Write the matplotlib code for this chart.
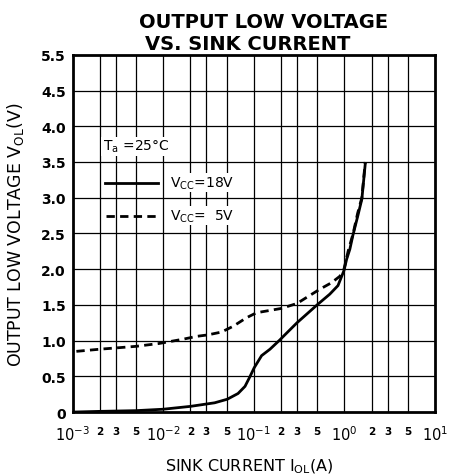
import numpy as np
import matplotlib
matplotlib.use("Agg")
import matplotlib.pyplot as plt
from matplotlib.ticker import FixedLocator, NullLocator

plt.rcParams["font.family"] = ["DejaVu Sans"]
plt.rcParams["mathtext.fontset"] = "dejavusans"

# ------------------------------------
# Data
# ------------------------------------

i_18v = [1e-3, 2e-3, 5e-3, 1e-2, 2e-2, 0.037, 0.051, 0.067, 0.080, 0.091,
         0.101, 0.122, 0.151, 0.194, 0.22, 0.3, 0.5, 0.69, 0.85, 0.99,
         1.06, 1.15, 1.24, 1.41, 1.56, 1.7]
v_18v = [0.0, 0.01, 0.02, 0.04, 0.08, 0.13, 0.18, 0.26, 0.36, 0.5,
         0.62, 0.79, 0.88, 1.01, 1.08, 1.25, 1.5, 1.65, 1.77, 1.98,
         2.14, 2.28, 2.47, 2.75, 2.98, 3.47]

i_5v = [1.1e-3, 2e-3, 5e-3, 9e-3, 0.0166, 0.0234, 0.031, 0.044, 0.059,
        0.083, 0.107, 0.2, 0.3, 0.367, 0.537, 0.72, 0.89, 0.99,
        1.1, 1.25, 1.4, 1.56, 1.7]
v_5v = [0.85, 0.88, 0.92, 0.96, 1.02, 1.06, 1.08, 1.12, 1.2,
        1.32, 1.39, 1.45, 1.52, 1.59, 1.72, 1.81, 1.9, 2.0,
        2.25, 2.5, 2.78, 3.0, 3.5]

y_ticks = [0, 0.5, 1.0, 1.5, 2.0, 2.5, 3.0, 3.5, 4.0, 4.5, 5.0]
y_labels = ["0", "0.5", "1.0", "1.5", "2.0", "2.5", "3.0", "3.5", "4.0", "4.5", "5.5"]

decades = [-3, -2, -1, 0, 1]
minor_mult = [2, 3, 5]

# ------------------------------------
# Figure
# ------------------------------------

fig = plt.figure(figsize=(4.54, 4.77), dpi=100)
ax = fig.add_axes([0.160, 0.134, 0.798, 0.749])

ax.set_xscale("log")
ax.set_xlim(1e-3, 1e1)
ax.set_ylim(0, 5.0)

# grid lines at 1, 2, 3, 5 of each decade
grid_x = []
for d in decades[:-1]:
    for m in minor_mult:
        grid_x.append(m * 10.0 ** d)
for gx in grid_x + [1e-2, 1e-1, 1e0]:
    ax.axvline(gx, color="black", lw=0.9, zorder=1)
for gy in y_ticks[1:-1]:
    ax.axhline(gy, color="black", lw=0.9, zorder=1)

dash = (0, (3.0, 1.9))
ax.plot(i_18v, v_18v, color="black", lw=2.0, zorder=3,
        solid_joinstyle="round")
ax.plot(i_5v, v_5v, color="black", lw=2.0, linestyle=dash, zorder=3)

for s in ax.spines.values():
    s.set_linewidth(2.0)

# ticks / labels
ax.yaxis.set_major_locator(FixedLocator(y_ticks))
ax.set_yticklabels(y_labels, fontsize=10, fontweight="bold")
ax.xaxis.set_major_locator(NullLocator())
ax.xaxis.set_minor_locator(NullLocator())
ax.tick_params(axis="both", length=0, pad=5)

for d in decades:
    ax.text(10.0 ** d, -0.17, r"10$^{%d}$" % d, ha="center", va="top",
            fontsize=10.5)
    if d < 1:
        for m in minor_mult:
            ax.text(m * 10.0 ** d, -0.2, str(m), ha="center", va="top",
                    fontsize=7.5, fontweight="bold")

# legend drawn by hand, like the datasheet
box = dict(facecolor="white", edgecolor="none", pad=1)
ax.text(2.15e-3, 3.72, r"T$_\mathrm{a}$ =25°C", fontsize=10, va="center", bbox=box)
ax.plot([2.27e-3, 8.75e-3], [3.21, 3.21], color="black", lw=2.0, zorder=4)
ax.plot([2.35e-3, 8.75e-3], [2.75, 2.75], color="black", lw=2.0,
        linestyle=dash, zorder=4)
ax.text(1.19e-2, 3.21, r"V$_\mathrm{CC}$=18V", fontsize=10, va="center", zorder=4, bbox=box)
ax.text(1.19e-2, 2.75, r"V$_\mathrm{CC}$=  5V", fontsize=10, va="center", zorder=4, bbox=box)

ax.set_ylabel(r"OUTPUT LOW VOLTAGE V$_\mathrm{OL}$(V)", fontsize=12.5)
ax.yaxis.set_label_coords(-0.13, 0.5)
fig.text(0.55, 0.012, r"SINK CURRENT I$_\mathrm{OL}$(A)", fontsize=11.5, ha="center")

fig.text(0.58, 0.941, "OUTPUT LOW VOLTAGE", fontsize=14, fontweight="bold", ha="center")
fig.text(0.545, 0.895, "VS. SINK CURRENT", fontsize=14, fontweight="bold", ha="center")

plt.savefig("out.png", dpi=100)
